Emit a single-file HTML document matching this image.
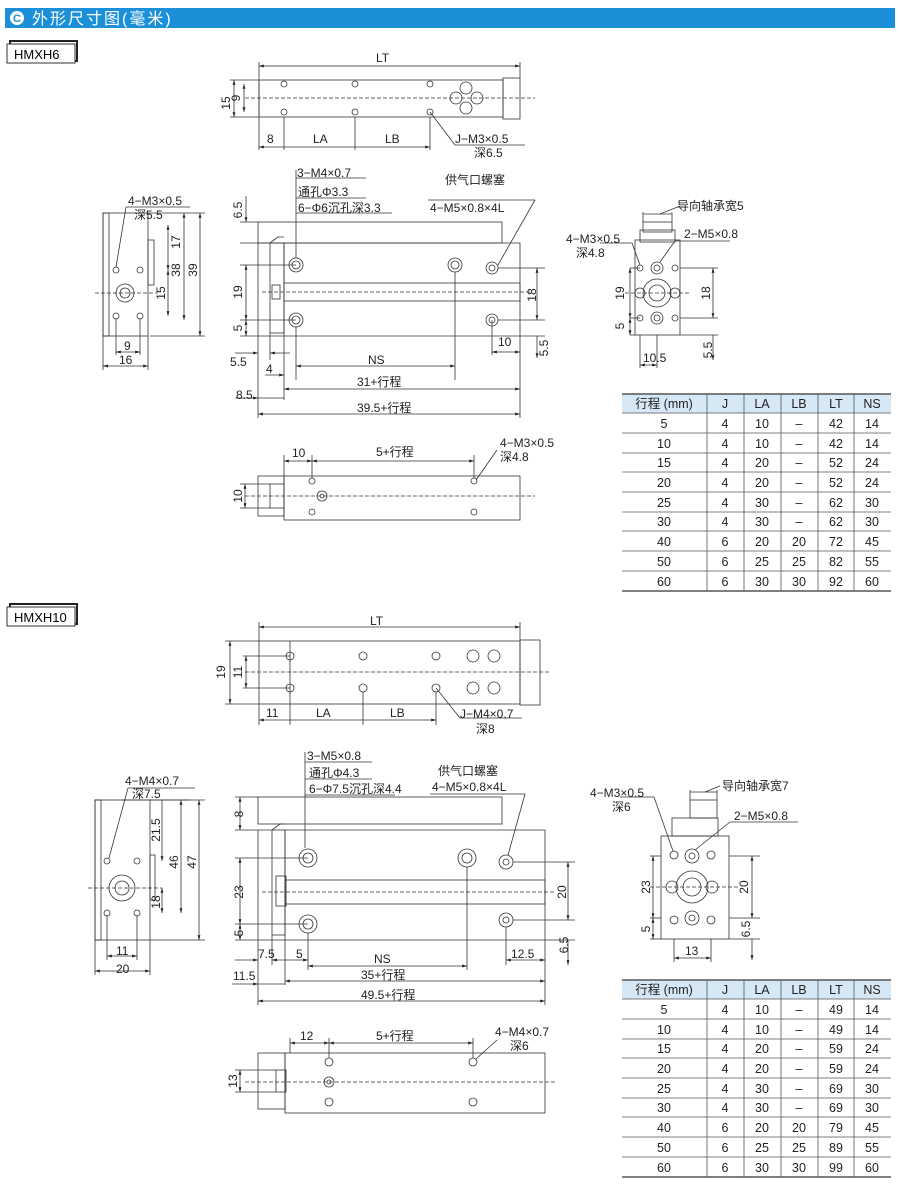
<!DOCTYPE html>
<html><head><meta charset="utf-8"><style>
html,body{margin:0;padding:0;background:#fff;}
svg{display:block;font-family:"Liberation Sans","Noto Sans CJK SC",sans-serif;}
</style></head><body>
<svg width="900" height="1187" viewBox="0 0 900 1187" xmlns="http://www.w3.org/2000/svg">
<defs>
<marker id="a" viewBox="0 0 10 10" refX="10" refY="5" markerWidth="6" markerHeight="6" orient="auto-start-reverse"><path d="M0,2 L10,5 L0,8z" fill="#222"/></marker>
</defs>
<!-- header -->
<rect x="5" y="8" width="890" height="20" fill="#1b8fd8"/>
<circle cx="17" cy="18" r="7" fill="#fff"/>
<text x="17" y="22" font-size="11" font-weight="bold" fill="#1b8fd8" text-anchor="middle">C</text>
<text x="32" y="24" font-size="16" fill="#fff" letter-spacing="2">外形尺寸图(毫米)</text>

<g fill="none" stroke="#333" stroke-width="1">
<!-- labels -->
<rect x="10" y="41" width="67" height="20" stroke-width="2" stroke="#222"/>
<rect x="7" y="44" width="68" height="19" fill="#fff"/>
<rect x="10" y="604" width="67" height="20" stroke-width="2" stroke="#222"/>
<rect x="7" y="607" width="68" height="19" fill="#fff"/>
</g>
<text x="14" y="59" font-size="13">HMXH6</text>
<text x="14" y="622" font-size="13">HMXH10</text>

<!-- ===== HMXH6 top view ===== -->
<g fill="none" stroke="#333" stroke-width="0.8">
<rect x="259" y="80" width="244" height="37"/>
<rect x="503" y="78" width="17" height="41"/>
<line x1="245" y1="98" x2="535" y2="98" stroke-dasharray="4,2"/>
<circle cx="284" cy="84" r="3"/><circle cx="355" cy="84" r="3"/><circle cx="430" cy="84" r="3"/>
<circle cx="284" cy="112" r="3"/><circle cx="355" cy="112" r="3"/><circle cx="430" cy="112" r="3"/>
<circle cx="466" cy="88" r="6"/><circle cx="466" cy="108" r="6"/><circle cx="456" cy="98" r="6"/><circle cx="477" cy="98" r="6"/>
<line x1="259" y1="80" x2="259" y2="150"/><line x1="520" y1="62" x2="520" y2="78"/><line x1="259" y1="62" x2="259" y2="80"/>
<line x1="259" y1="66" x2="520" y2="66" stroke="#222" marker-start="url(#a)" marker-end="url(#a)"/>
<line x1="230" y1="80" x2="259" y2="80"/><line x1="230" y1="117" x2="259" y2="117"/>
<line x1="234" y1="80" x2="234" y2="117" marker-start="url(#a)" marker-end="url(#a)"/>
<line x1="244" y1="84" x2="244" y2="112" marker-start="url(#a)" marker-end="url(#a)"/>
<line x1="284" y1="117" x2="284" y2="150"/><line x1="355" y1="117" x2="355" y2="150"/><line x1="430" y1="117" x2="430" y2="150"/>
<line x1="259" y1="147" x2="430" y2="147" marker-start="url(#a)" marker-end="url(#a)"/>
<line x1="430" y1="112" x2="455" y2="145"/><line x1="455" y1="145" x2="525" y2="145"/>
</g>
<g font-size="12" fill="#222">
<text x="376" y="62">LT</text>
<text x="230" y="103" transform="rotate(-90 230 103)" text-anchor="middle">15</text>
<text x="240" y="98" transform="rotate(-90 240 98)" text-anchor="middle">9</text>
<text x="267" y="143">8</text><text x="313" y="143">LA</text><text x="385" y="143">LB</text>
<text x="455" y="143">J−M3×0.5</text><text x="474" y="157">深6.5</text>
</g>

<!-- ===== HMXH6 side view ===== -->
<g fill="none" stroke="#333" stroke-width="0.8">
<rect x="258" y="222" width="244" height="21"/>
<path d="M284,243 H520 V336 H284 Z"/>
<path d="M270,243 L278,237 H284"/>
<rect x="270" y="243" width="14" height="90"/>
<rect x="284" y="283" width="236" height="18"/>
<rect x="272" y="285" width="8" height="14"/>
<line x1="262" y1="292" x2="530" y2="292" stroke-dasharray="4,2"/>
<circle cx="296" cy="265" r="7"/><circle cx="296" cy="265" r="4"/>
<circle cx="455" cy="265" r="7"/><circle cx="455" cy="265" r="4"/>
<circle cx="492" cy="268" r="6"/><circle cx="492" cy="268" r="3"/>
<circle cx="296" cy="320" r="7"/><circle cx="296" cy="320" r="4"/>
<circle cx="492" cy="320" r="6"/><circle cx="492" cy="320" r="3"/>
<line x1="296" y1="178" x2="366" y2="178"/><line x1="296" y1="198" x2="366" y2="198"/><line x1="296" y1="213" x2="392" y2="213"/>
<line x1="296" y1="170" x2="296" y2="258"/>
<line x1="428" y1="200" x2="535" y2="200"/><line x1="535" y1="200" x2="498" y2="265"/>
<line x1="240" y1="222" x2="258" y2="222"/><line x1="240" y1="243" x2="270" y2="243"/>
<line x1="246" y1="196" x2="246" y2="222" marker-end="url(#a)"/>
<line x1="240" y1="265" x2="296" y2="265"/><line x1="240" y1="320" x2="296" y2="320"/><line x1="240" y1="336" x2="284" y2="336"/>
<line x1="246" y1="265" x2="246" y2="320" marker-start="url(#a)" marker-end="url(#a)"/>
<line x1="246" y1="320" x2="246" y2="336" marker-start="url(#a)" marker-end="url(#a)"/>
<line x1="498" y1="268" x2="545" y2="268"/><line x1="498" y1="320" x2="545" y2="320"/>
<line x1="537" y1="268" x2="537" y2="320" marker-start="url(#a)" marker-end="url(#a)"/>
<line x1="537" y1="336" x2="537" y2="358" marker-end="url(#a)"/>
<line x1="520" y1="336" x2="545" y2="336"/>
<line x1="492" y1="320" x2="492" y2="355"/><line x1="520" y1="336" x2="520" y2="418"/>
<line x1="492" y1="352" x2="520" y2="352" marker-start="url(#a)" marker-end="url(#a)"/>
<line x1="258" y1="243" x2="258" y2="418"/><line x1="270" y1="333" x2="270" y2="360"/><line x1="284" y1="336" x2="284" y2="400"/>
<line x1="296" y1="327" x2="296" y2="380"/><line x1="455" y1="272" x2="455" y2="380"/>
<line x1="235" y1="353" x2="258" y2="353" marker-end="url(#a)"/><line x1="270" y1="353" x2="290" y2="353" marker-start="url(#a)"/>
<line x1="265" y1="375" x2="284" y2="375" marker-end="url(#a)"/>
<line x1="296" y1="366" x2="455" y2="366" marker-start="url(#a)" marker-end="url(#a)"/>
<line x1="284" y1="389" x2="520" y2="389" marker-start="url(#a)" marker-end="url(#a)"/>
<line x1="235" y1="398" x2="258" y2="398" marker-end="url(#a)"/><line x1="258" y1="398" x2="284" y2="398"/>
<line x1="258" y1="414" x2="520" y2="414" marker-start="url(#a)" marker-end="url(#a)"/>
</g>
<g font-size="12" fill="#222">
<text x="297" y="177">3−M4×0.7</text><text x="298" y="196">通孔Φ3.3</text><text x="298" y="212">6−Φ6沉孔深3.3</text>
<text x="445" y="184">供气口螺塞</text><text x="430" y="212">4−M5×0.8×4L</text>
<text x="242" y="210" transform="rotate(-90 242 210)" text-anchor="middle">6.5</text>
<text x="242" y="292" transform="rotate(-90 242 292)" text-anchor="middle">19</text>
<text x="242" y="328" transform="rotate(-90 242 328)" text-anchor="middle">5</text>
<text x="536" y="295" transform="rotate(-90 536 295)" text-anchor="middle">18</text>
<text x="548" y="348" transform="rotate(-90 548 348)" text-anchor="middle">5.5</text>
<text x="498" y="346">10</text>
<text x="230" y="366">5.5</text><text x="266" y="373">4</text>
<text x="368" y="364">NS</text><text x="357" y="386">31+行程</text>
<text x="236" y="399">8.5</text><text x="357" y="412">39.5+行程</text>
</g>

<!-- HMXH6 left end -->
<g fill="none" stroke="#333" stroke-width="0.8">
<rect x="103" y="213" width="45" height="123"/>
<rect x="103" y="213" width="6" height="123"/>
<rect x="148" y="240" width="6" height="45"/>
<circle cx="125" cy="293" r="9"/><circle cx="125" cy="293" r="5"/>
<circle cx="116" cy="270" r="3"/><circle cx="140" cy="270" r="3"/><circle cx="116" cy="316" r="3"/><circle cx="140" cy="316" r="3"/>
<line x1="95" y1="293" x2="158" y2="293" stroke-dasharray="4,2"/>
<line x1="126" y1="207" x2="190" y2="207"/><line x1="126" y1="207" x2="116" y2="267"/>
<line x1="148" y1="213" x2="205" y2="213"/><line x1="150" y1="336" x2="205" y2="336"/>
<line x1="200" y1="213" x2="200" y2="336" marker-start="url(#a)" marker-end="url(#a)"/>
<line x1="184" y1="213" x2="184" y2="320" marker-start="url(#a)" marker-end="url(#a)"/>
<line x1="168" y1="225" x2="168" y2="270" marker-start="url(#a)" marker-end="url(#a)"/>
<line x1="168" y1="270" x2="168" y2="316" marker-start="url(#a)" marker-end="url(#a)"/>
<line x1="103" y1="336" x2="103" y2="370"/><line x1="148" y1="336" x2="148" y2="370"/>
<line x1="116" y1="318" x2="116" y2="355"/><line x1="140" y1="318" x2="140" y2="355"/>
<line x1="116" y1="352" x2="140" y2="352" marker-start="url(#a)" marker-end="url(#a)"/>
<line x1="103" y1="366" x2="148" y2="366" marker-start="url(#a)" marker-end="url(#a)"/>
</g>
<g font-size="12" fill="#222">
<text x="128" y="205">4−M3×0.5</text><text x="134" y="219">深5.5</text>
<text x="180" y="242" transform="rotate(-90 180 242)" text-anchor="middle">17</text>
<text x="180" y="270" transform="rotate(-90 180 270)" text-anchor="middle">38</text>
<text x="197" y="270" transform="rotate(-90 197 270)" text-anchor="middle">39</text>
<text x="165" y="293" transform="rotate(-90 165 293)" text-anchor="middle">15</text>
<text x="124" y="350">9</text><text x="119" y="364">16</text>
</g>

<!-- HMXH6 right end -->
<g fill="none" stroke="#333" stroke-width="0.8">
<rect x="635" y="240" width="45" height="95"/>
<rect x="640" y="230" width="35" height="12"/>
<rect x="643" y="222" width="29" height="10"/>
<circle cx="657" cy="293" r="14"/><circle cx="657" cy="293" r="8"/>
<circle cx="657" cy="268" r="6"/><circle cx="657" cy="268" r="3"/><circle cx="657" cy="318" r="6"/><circle cx="657" cy="318" r="3"/>
<circle cx="640" cy="268" r="3"/><circle cx="675" cy="268" r="3"/><circle cx="640" cy="318" r="3"/><circle cx="675" cy="318" r="3"/>
<circle cx="640" cy="293" r="5"/><circle cx="675" cy="293" r="5"/>
<line x1="625" y1="293" x2="690" y2="293" stroke-dasharray="4,2"/>
<line x1="680" y1="268" x2="718" y2="268"/><line x1="680" y1="318" x2="718" y2="318"/><line x1="680" y1="335" x2="718" y2="335"/>
<line x1="713" y1="268" x2="713" y2="318" marker-start="url(#a)" marker-end="url(#a)"/>
<line x1="713" y1="335" x2="713" y2="360" marker-end="url(#a)"/>
<line x1="630" y1="268" x2="640" y2="268"/><line x1="630" y1="318" x2="640" y2="318"/><line x1="630" y1="335" x2="635" y2="335"/>
<line x1="630" y1="268" x2="630" y2="318" marker-start="url(#a)" marker-end="url(#a)"/>
<line x1="630" y1="318" x2="630" y2="335" marker-start="url(#a)" marker-end="url(#a)"/>
<line x1="640" y1="335" x2="640" y2="368"/><line x1="657" y1="335" x2="657" y2="368"/>
<line x1="640" y1="365" x2="657" y2="365" marker-start="url(#a)" marker-end="url(#a)"/>
<line x1="643" y1="212" x2="643" y2="222"/><line x1="672" y1="212" x2="672" y2="222"/>
<line x1="643" y1="214" x2="672" y2="214"/><line x1="660" y1="214" x2="680" y2="206"/>
<line x1="675" y1="241" x2="730" y2="241"/><line x1="675" y1="241" x2="660" y2="262"/>
<line x1="600" y1="243" x2="632" y2="243"/><line x1="632" y1="243" x2="640" y2="265"/>
</g>
<g font-size="12" fill="#222">
<text x="677" y="210">导向轴承宽5</text>
<text x="684" y="238">2−M5×0.8</text>
<text x="566" y="243">4−M3×0.5</text><text x="576" y="257">深4.8</text>
<text x="624" y="293" transform="rotate(-90 624 293)" text-anchor="middle">19</text>
<text x="624" y="326" transform="rotate(-90 624 326)" text-anchor="middle">5</text>
<text x="710" y="293" transform="rotate(-90 710 293)" text-anchor="middle">18</text>
<text x="712" y="350" transform="rotate(-90 712 350)" text-anchor="middle">5.5</text>
<text x="643" y="362">10.5</text>
</g>

<!-- HMXH6 bottom view -->
<g fill="none" stroke="#333" stroke-width="0.8">
<rect x="258" y="476" width="26" height="40"/>
<rect x="284" y="476" width="236" height="44"/>
<rect x="270" y="484" width="14" height="24"/>
<line x1="245" y1="496" x2="535" y2="496" stroke-dasharray="4,2"/>
<circle cx="322" cy="496" r="5"/><circle cx="322" cy="496" r="2"/>
<circle cx="312" cy="481" r="3"/><circle cx="312" cy="512" r="3"/>
<circle cx="474" cy="481" r="3"/><circle cx="474" cy="512" r="3"/>
<line x1="284" y1="455" x2="284" y2="476"/><line x1="312" y1="455" x2="312" y2="478"/><line x1="474" y1="455" x2="474" y2="478"/>
<line x1="284" y1="461" x2="312" y2="461" marker-start="url(#a)" marker-end="url(#a)"/>
<line x1="312" y1="461" x2="474" y2="461" marker-start="url(#a)" marker-end="url(#a)"/>
<line x1="497" y1="450" x2="476" y2="480"/>
<line x1="240" y1="484" x2="270" y2="484"/><line x1="240" y1="508" x2="270" y2="508"/>
<line x1="245" y1="484" x2="245" y2="508" marker-start="url(#a)" marker-end="url(#a)"/>
</g>
<g font-size="12" fill="#222">
<text x="292" y="457">10</text><text x="376" y="456">5+行程</text>
<text x="500" y="447">4−M3×0.5</text><text x="500" y="461">深4.8</text>
<text x="242" y="496" transform="rotate(-90 242 496)" text-anchor="middle">10</text>
</g>

<!-- ===== HMXH10 top view ===== -->
<g fill="none" stroke="#333" stroke-width="0.8">
<rect x="259" y="641" width="261" height="63"/>
<rect x="520" y="640" width="20" height="65"/>
<line x1="290" y1="641" x2="290" y2="704"/>
<line x1="245" y1="672" x2="550" y2="672" stroke-dasharray="4,2"/>
<g><circle cx="290" cy="656" r="4"/><circle cx="363" cy="656" r="4"/><circle cx="436" cy="656" r="4"/><circle cx="473" cy="656" r="6"/><circle cx="494" cy="656" r="6"/>
<circle cx="290" cy="688" r="4"/><circle cx="363" cy="688" r="4"/><circle cx="436" cy="688" r="4"/><circle cx="473" cy="688" r="6"/><circle cx="494" cy="688" r="6"/></g>
<line x1="259" y1="622" x2="259" y2="641"/><line x1="520" y1="622" x2="520" y2="640"/>
<line x1="259" y1="627" x2="520" y2="627" marker-start="url(#a)" marker-end="url(#a)"/>
<line x1="225" y1="641" x2="259" y2="641"/><line x1="225" y1="704" x2="259" y2="704"/>
<line x1="230" y1="641" x2="230" y2="704" marker-start="url(#a)" marker-end="url(#a)"/>
<line x1="243" y1="656" x2="290" y2="656"/><line x1="243" y1="688" x2="290" y2="688"/>
<line x1="246" y1="656" x2="246" y2="688" marker-start="url(#a)" marker-end="url(#a)"/>
<line x1="259" y1="704" x2="259" y2="725"/><line x1="290" y1="704" x2="290" y2="725"/><line x1="363" y1="692" x2="363" y2="725"/><line x1="436" y1="692" x2="436" y2="725"/>
<line x1="259" y1="720" x2="436" y2="720" marker-start="url(#a)" marker-end="url(#a)"/>
<line x1="436" y1="688" x2="460" y2="718"/><line x1="460" y1="718" x2="522" y2="718"/>
</g>
<g font-size="12" fill="#222">
<text x="370" y="625">LT</text>
<text x="225" y="672" transform="rotate(-90 225 672)" text-anchor="middle">19</text>
<text x="242" y="672" transform="rotate(-90 242 672)" text-anchor="middle">11</text>
<text x="266" y="717">11</text><text x="316" y="717">LA</text><text x="390" y="717">LB</text>
<text x="460" y="718">J−M4×0.7</text><text x="476" y="733">深8</text>
</g>

<!-- HMXH10 side view -->
<g fill="none" stroke="#333" stroke-width="0.8">
<rect x="258" y="797" width="244" height="27"/>
<path d="M285,830 H545 V940 H285 Z"/>
<path d="M272,830 L280,824 H285"/>
<rect x="272" y="830" width="13" height="105"/>
<rect x="285" y="880" width="260" height="24"/>
<rect x="276" y="876" width="10" height="30"/>
<line x1="262" y1="892" x2="555" y2="892" stroke-dasharray="4,2"/>
<circle cx="308" cy="858" r="9"/><circle cx="308" cy="858" r="5"/>
<circle cx="467" cy="858" r="9"/><circle cx="467" cy="858" r="5"/>
<circle cx="506" cy="862" r="7"/><circle cx="506" cy="862" r="3"/>
<circle cx="308" cy="924" r="9"/><circle cx="308" cy="924" r="5"/>
<circle cx="506" cy="920" r="7"/><circle cx="506" cy="920" r="3"/>
<line x1="305" y1="762" x2="372" y2="762"/><line x1="305" y1="779" x2="372" y2="779"/><line x1="305" y1="795" x2="395" y2="795"/>
<line x1="305" y1="752" x2="305" y2="848"/>
<line x1="430" y1="794" x2="525" y2="794"/><line x1="525" y1="794" x2="508" y2="855"/>
<line x1="235" y1="797" x2="258" y2="797"/><line x1="235" y1="830" x2="272" y2="830"/>
<line x1="240" y1="797" x2="240" y2="830" marker-start="url(#a)" marker-end="url(#a)"/>
<line x1="235" y1="858" x2="308" y2="858"/><line x1="235" y1="924" x2="308" y2="924"/><line x1="235" y1="940" x2="285" y2="940"/>
<line x1="240" y1="858" x2="240" y2="924" marker-start="url(#a)" marker-end="url(#a)"/>
<line x1="240" y1="924" x2="240" y2="940" marker-start="url(#a)" marker-end="url(#a)"/>
<line x1="513" y1="862" x2="575" y2="862"/><line x1="513" y1="920" x2="575" y2="920"/><line x1="545" y1="940" x2="575" y2="940"/>
<line x1="568" y1="862" x2="568" y2="920" marker-start="url(#a)" marker-end="url(#a)"/>
<line x1="568" y1="940" x2="568" y2="965" marker-end="url(#a)"/>
<line x1="506" y1="927" x2="506" y2="965"/><line x1="545" y1="940" x2="545" y2="1005"/>
<line x1="506" y1="960" x2="545" y2="960" marker-start="url(#a)" marker-end="url(#a)"/>
<line x1="258" y1="830" x2="258" y2="1005"/><line x1="272" y1="935" x2="272" y2="965"/><line x1="285" y1="940" x2="285" y2="985"/>
<line x1="308" y1="933" x2="308" y2="970"/><line x1="467" y1="867" x2="467" y2="970"/>
<line x1="235" y1="960" x2="258" y2="960" marker-end="url(#a)"/><line x1="272" y1="960" x2="290" y2="960" marker-start="url(#a)"/>
<line x1="290" y1="960" x2="308" y2="960" marker-end="url(#a)"/>
<line x1="308" y1="966" x2="467" y2="966" marker-start="url(#a)" marker-end="url(#a)"/>
<line x1="285" y1="981" x2="545" y2="981" marker-start="url(#a)" marker-end="url(#a)"/>
<line x1="232" y1="984" x2="258" y2="984" marker-end="url(#a)"/><line x1="258" y1="984" x2="285" y2="984"/>
<line x1="258" y1="1001" x2="545" y2="1001" marker-start="url(#a)" marker-end="url(#a)"/>
</g>
<g font-size="12" fill="#222">
<text x="307" y="760">3−M5×0.8</text><text x="309" y="777">通孔Φ4.3</text><text x="309" y="793">6−Φ7.5沉孔深4.4</text>
<text x="438" y="775">供气口螺塞</text><text x="432" y="791">4−M5×0.8×4L</text>
<text x="243" y="814" transform="rotate(-90 243 814)" text-anchor="middle">8</text>
<text x="243" y="892" transform="rotate(-90 243 892)" text-anchor="middle">23</text>
<text x="243" y="933" transform="rotate(-90 243 933)" text-anchor="middle">5</text>
<text x="566" y="892" transform="rotate(-90 566 892)" text-anchor="middle">20</text>
<text x="568" y="945" transform="rotate(-90 568 945)" text-anchor="middle">6.5</text>
<text x="511" y="958">12.5</text>
<text x="258" y="958">7.5</text><text x="296" y="958">5</text>
<text x="374" y="963">NS</text><text x="361" y="979">35+行程</text>
<text x="233" y="980">11.5</text><text x="361" y="999">49.5+行程</text>
</g>

<!-- HMXH10 left end -->
<g fill="none" stroke="#333" stroke-width="0.8">
<rect x="95" y="800" width="55" height="140"/>
<rect x="95" y="800" width="6" height="140"/>
<rect x="150" y="855" width="5" height="45"/>
<circle cx="122" cy="888" r="13"/><circle cx="122" cy="888" r="7"/>
<circle cx="107" cy="861" r="3"/><circle cx="137" cy="861" r="3"/><circle cx="107" cy="913" r="3"/><circle cx="137" cy="913" r="3"/>
<line x1="88" y1="888" x2="162" y2="888" stroke-dasharray="4,2"/>
<line x1="122" y1="800" x2="190" y2="800"/>
<line x1="128" y1="788" x2="195" y2="788"/><line x1="128" y1="788" x2="109" y2="858"/>
<line x1="150" y1="800" x2="205" y2="800"/><line x1="150" y1="940" x2="205" y2="940"/>
<line x1="199" y1="800" x2="199" y2="940" marker-start="url(#a)" marker-end="url(#a)"/>
<line x1="181" y1="800" x2="181" y2="913" marker-start="url(#a)" marker-end="url(#a)"/>
<line x1="162" y1="800" x2="162" y2="861" marker-end="url(#a)"/>
<line x1="162" y1="888" x2="162" y2="913" marker-start="url(#a)" marker-end="url(#a)"/>
<line x1="95" y1="940" x2="95" y2="975"/><line x1="150" y1="940" x2="150" y2="975"/>
<line x1="107" y1="915" x2="107" y2="960"/><line x1="137" y1="915" x2="137" y2="960"/>
<line x1="107" y1="956" x2="137" y2="956" marker-start="url(#a)" marker-end="url(#a)"/>
<line x1="95" y1="971" x2="150" y2="971" marker-start="url(#a)" marker-end="url(#a)"/>
</g>
<g font-size="12" fill="#222">
<text x="125" y="785">4−M4×0.7</text><text x="132" y="798">深7.5</text>
<text x="160" y="830" transform="rotate(-90 160 830)" text-anchor="middle">21.5</text>
<text x="178" y="862" transform="rotate(-90 178 862)" text-anchor="middle">46</text>
<text x="196" y="862" transform="rotate(-90 196 862)" text-anchor="middle">47</text>
<text x="160" y="902" transform="rotate(-90 160 902)" text-anchor="middle">18</text>
<text x="116" y="955">11</text><text x="116" y="973">20</text>
</g>

<!-- HMXH10 right end -->
<g fill="none" stroke="#333" stroke-width="0.8">
<rect x="661" y="836" width="68" height="103"/>
<rect x="672" y="818" width="46" height="18"/>
<rect x="690" y="800" width="27" height="18"/>
<circle cx="692" cy="887" r="16"/><circle cx="692" cy="887" r="9"/>
<circle cx="692" cy="856" r="7"/><circle cx="692" cy="856" r="3"/><circle cx="692" cy="918" r="7"/><circle cx="692" cy="918" r="3"/>
<circle cx="674" cy="855" r="4"/><circle cx="711" cy="855" r="4"/><circle cx="674" cy="920" r="4"/><circle cx="711" cy="920" r="4"/>
<circle cx="672" cy="887" r="6"/><circle cx="712" cy="887" r="6"/>
<line x1="650" y1="887" x2="740" y2="887" stroke-dasharray="4,2"/>
<line x1="729" y1="856" x2="760" y2="856"/><line x1="729" y1="918" x2="760" y2="918"/><line x1="729" y1="939" x2="760" y2="939"/>
<line x1="752" y1="856" x2="752" y2="918" marker-start="url(#a)" marker-end="url(#a)"/>
<line x1="752" y1="939" x2="752" y2="960" marker-end="url(#a)"/>
<line x1="650" y1="856" x2="661" y2="856"/><line x1="650" y1="918" x2="661" y2="918"/><line x1="650" y1="939" x2="661" y2="939"/>
<line x1="653" y1="856" x2="653" y2="918" marker-start="url(#a)" marker-end="url(#a)"/>
<line x1="653" y1="918" x2="653" y2="939" marker-start="url(#a)" marker-end="url(#a)"/>
<line x1="674" y1="939" x2="674" y2="962"/><line x1="711" y1="939" x2="711" y2="962"/>
<line x1="674" y1="958" x2="711" y2="958" marker-start="url(#a)" marker-end="url(#a)"/>
<line x1="690" y1="790" x2="690" y2="800"/><line x1="717" y1="790" x2="717" y2="800"/>
<line x1="690" y1="792" x2="717" y2="792"/><line x1="705" y1="792" x2="720" y2="786"/>
<line x1="730" y1="822" x2="798" y2="822"/><line x1="730" y1="822" x2="695" y2="850"/>
<line x1="620" y1="797" x2="654" y2="797"/><line x1="654" y1="797" x2="673" y2="851"/>
</g>
<g font-size="12" fill="#222">
<text x="722" y="790">导向轴承宽7</text>
<text x="734" y="820">2−M5×0.8</text>
<text x="590" y="797">4−M3×0.5</text><text x="612" y="811">深6</text>
<text x="650" y="887" transform="rotate(-90 650 887)" text-anchor="middle">23</text>
<text x="650" y="929" transform="rotate(-90 650 929)" text-anchor="middle">5</text>
<text x="748" y="887" transform="rotate(-90 748 887)" text-anchor="middle">20</text>
<text x="750" y="929" transform="rotate(-90 750 929)" text-anchor="middle">6.5</text>
<text x="685" y="955">13</text>
</g>

<!-- HMXH10 bottom view -->
<g fill="none" stroke="#333" stroke-width="0.8">
<rect x="258" y="1053" width="27" height="56"/>
<rect x="285" y="1053" width="260" height="60"/>
<rect x="276" y="1070" width="10" height="22"/>
<line x1="245" y1="1082" x2="555" y2="1082" stroke-dasharray="4,2"/>
<circle cx="329" cy="1082" r="5"/><circle cx="329" cy="1082" r="2"/>
<circle cx="329" cy="1062" r="4"/><circle cx="329" cy="1102" r="4"/>
<circle cx="473" cy="1062" r="4"/><circle cx="473" cy="1102" r="4"/>
<line x1="290" y1="1038" x2="290" y2="1053"/><line x1="329" y1="1038" x2="329" y2="1058"/><line x1="473" y1="1038" x2="473" y2="1058"/>
<line x1="290" y1="1043" x2="329" y2="1043" marker-start="url(#a)" marker-end="url(#a)"/>
<line x1="329" y1="1043" x2="473" y2="1043" marker-start="url(#a)" marker-end="url(#a)"/>
<line x1="497" y1="1040" x2="476" y2="1059"/>
<line x1="235" y1="1070" x2="276" y2="1070"/><line x1="235" y1="1092" x2="276" y2="1092"/>
<line x1="240" y1="1070" x2="240" y2="1092" marker-start="url(#a)" marker-end="url(#a)"/>
</g>
<g font-size="12" fill="#222">
<text x="300" y="1040">12</text><text x="376" y="1040">5+行程</text>
<text x="495" y="1036">4−M4×0.7</text><text x="510" y="1050">深6</text>
<text x="237" y="1081" transform="rotate(-90 237 1081)" text-anchor="middle">13</text>
</g>

<!-- Tables -->
<g id="t1" font-size="12.5" fill="#222" text-anchor="middle">
<rect x="622" y="394" width="269" height="19" fill="#d6e8f6"/>
<g stroke="#555" stroke-width="0.8">
<line x1="622" y1="394" x2="891" y2="394" stroke-width="1.5"/>
<line x1="622" y1="413" x2="891" y2="413"/><line x1="622" y1="433" x2="891" y2="433"/><line x1="622" y1="453" x2="891" y2="453"/><line x1="622" y1="472" x2="891" y2="472"/><line x1="622" y1="492" x2="891" y2="492"/><line x1="622" y1="512" x2="891" y2="512"/><line x1="622" y1="531" x2="891" y2="531"/><line x1="622" y1="551" x2="891" y2="551"/><line x1="622" y1="571" x2="891" y2="571"/>
<line x1="622" y1="591" x2="891" y2="591" stroke-width="1.5"/>
<line x1="707" y1="394" x2="707" y2="591"/><line x1="744" y1="394" x2="744" y2="591"/><line x1="781" y1="394" x2="781" y2="591"/><line x1="818" y1="394" x2="818" y2="591"/><line x1="854" y1="394" x2="854" y2="591"/>
</g>
<text x="664" y="408">行程 (mm)</text><text x="725" y="408">J</text><text x="762" y="408">LA</text><text x="799" y="408">LB</text><text x="836" y="408">LT</text><text x="872" y="408">NS</text>
<text x="664" y="428">5</text><text x="725" y="428">4</text><text x="762" y="428">10</text><text x="799" y="428">–</text><text x="836" y="428">42</text><text x="872" y="428">14</text>
<text x="664" y="448">10</text><text x="725" y="448">4</text><text x="762" y="448">10</text><text x="799" y="448">–</text><text x="836" y="448">42</text><text x="872" y="448">14</text>
<text x="664" y="467">15</text><text x="725" y="467">4</text><text x="762" y="467">20</text><text x="799" y="467">–</text><text x="836" y="467">52</text><text x="872" y="467">24</text>
<text x="664" y="487">20</text><text x="725" y="487">4</text><text x="762" y="487">20</text><text x="799" y="487">–</text><text x="836" y="487">52</text><text x="872" y="487">24</text>
<text x="664" y="507">25</text><text x="725" y="507">4</text><text x="762" y="507">30</text><text x="799" y="507">–</text><text x="836" y="507">62</text><text x="872" y="507">30</text>
<text x="664" y="526">30</text><text x="725" y="526">4</text><text x="762" y="526">30</text><text x="799" y="526">–</text><text x="836" y="526">62</text><text x="872" y="526">30</text>
<text x="664" y="546">40</text><text x="725" y="546">6</text><text x="762" y="546">20</text><text x="799" y="546">20</text><text x="836" y="546">72</text><text x="872" y="546">45</text>
<text x="664" y="566">50</text><text x="725" y="566">6</text><text x="762" y="566">25</text><text x="799" y="566">25</text><text x="836" y="566">82</text><text x="872" y="566">55</text>
<text x="664" y="586">60</text><text x="725" y="586">6</text><text x="762" y="586">30</text><text x="799" y="586">30</text><text x="836" y="586">92</text><text x="872" y="586">60</text>
</g>
<g font-size="12.5" fill="#222" text-anchor="middle" transform="translate(0,586)">
<rect x="622" y="394" width="269" height="19" fill="#d6e8f6"/>
<g stroke="#555" stroke-width="0.8">
<line x1="622" y1="394" x2="891" y2="394" stroke-width="1.5"/>
<line x1="622" y1="413" x2="891" y2="413"/><line x1="622" y1="433" x2="891" y2="433"/><line x1="622" y1="453" x2="891" y2="453"/><line x1="622" y1="472" x2="891" y2="472"/><line x1="622" y1="492" x2="891" y2="492"/><line x1="622" y1="512" x2="891" y2="512"/><line x1="622" y1="531" x2="891" y2="531"/><line x1="622" y1="551" x2="891" y2="551"/><line x1="622" y1="571" x2="891" y2="571"/>
<line x1="622" y1="591" x2="891" y2="591" stroke-width="1.5"/>
<line x1="707" y1="394" x2="707" y2="591"/><line x1="744" y1="394" x2="744" y2="591"/><line x1="781" y1="394" x2="781" y2="591"/><line x1="818" y1="394" x2="818" y2="591"/><line x1="854" y1="394" x2="854" y2="591"/>
</g>
<text x="664" y="408">行程 (mm)</text><text x="725" y="408">J</text><text x="762" y="408">LA</text><text x="799" y="408">LB</text><text x="836" y="408">LT</text><text x="872" y="408">NS</text>
<text x="664" y="428">5</text><text x="725" y="428">4</text><text x="762" y="428">10</text><text x="799" y="428">–</text><text x="836" y="428">49</text><text x="872" y="428">14</text>
<text x="664" y="448">10</text><text x="725" y="448">4</text><text x="762" y="448">10</text><text x="799" y="448">–</text><text x="836" y="448">49</text><text x="872" y="448">14</text>
<text x="664" y="467">15</text><text x="725" y="467">4</text><text x="762" y="467">20</text><text x="799" y="467">–</text><text x="836" y="467">59</text><text x="872" y="467">24</text>
<text x="664" y="487">20</text><text x="725" y="487">4</text><text x="762" y="487">20</text><text x="799" y="487">–</text><text x="836" y="487">59</text><text x="872" y="487">24</text>
<text x="664" y="507">25</text><text x="725" y="507">4</text><text x="762" y="507">30</text><text x="799" y="507">–</text><text x="836" y="507">69</text><text x="872" y="507">30</text>
<text x="664" y="526">30</text><text x="725" y="526">4</text><text x="762" y="526">30</text><text x="799" y="526">–</text><text x="836" y="526">69</text><text x="872" y="526">30</text>
<text x="664" y="546">40</text><text x="725" y="546">6</text><text x="762" y="546">20</text><text x="799" y="546">20</text><text x="836" y="546">79</text><text x="872" y="546">45</text>
<text x="664" y="566">50</text><text x="725" y="566">6</text><text x="762" y="566">25</text><text x="799" y="566">25</text><text x="836" y="566">89</text><text x="872" y="566">55</text>
<text x="664" y="586">60</text><text x="725" y="586">6</text><text x="762" y="586">30</text><text x="799" y="586">30</text><text x="836" y="586">99</text><text x="872" y="586">60</text>
</g>
</svg>
</body></html>
